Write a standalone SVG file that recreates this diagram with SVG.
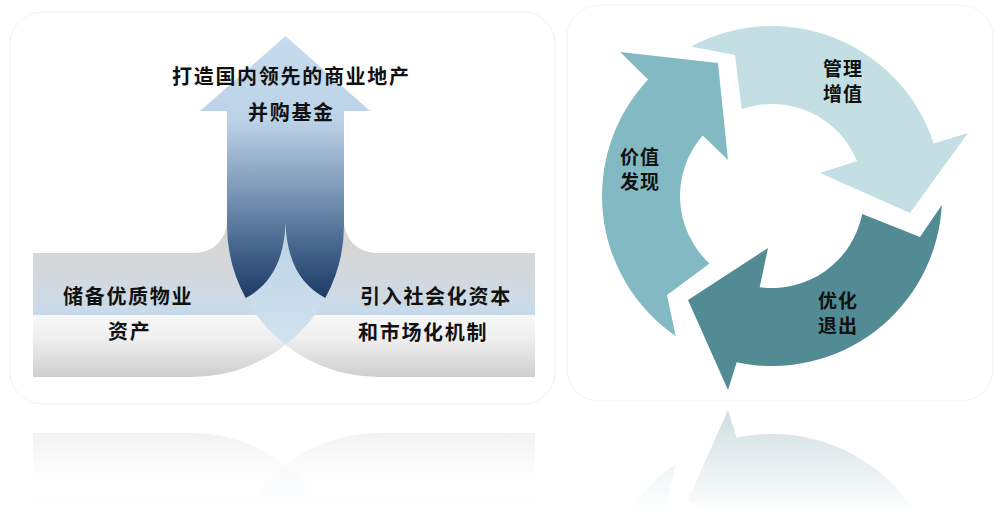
<svg xmlns="http://www.w3.org/2000/svg" xmlns:xlink="http://www.w3.org/1999/xlink" width="1000" height="530" viewBox="0 0 1000 530">
  <defs>
    <style>
      .lbl { font-family: "Noto Sans CJK SC", "Noto Sans", sans-serif; font-weight: 700; fill: #111111; }
      .big { font-size: 20px; letter-spacing: 1.7px; }
      .cyc { font-size: 19px; letter-spacing: 1px; }
      .card { fill: #ffffff; stroke: #f3f3f3; stroke-width: 1; }
    </style>
    <linearGradient id="band" gradientUnits="userSpaceOnUse" x1="0" y1="253" x2="0" y2="377">
      <stop offset="0" stop-color="#d6d6d6"/>
      <stop offset="0.35" stop-color="#cfdae4"/>
      <stop offset="0.5" stop-color="#c6daeb"/>
      <stop offset="0.5" stop-color="#f8f8f8"/>
      <stop offset="0.7" stop-color="#eeeeee"/>
      <stop offset="1" stop-color="#cecece"/>
    </linearGradient>
    <linearGradient id="lens" gradientUnits="userSpaceOnUse" x1="0" y1="225" x2="0" y2="345">
      <stop offset="0" stop-color="#bad1e5"/>
      <stop offset="1" stop-color="#d2e3ef"/>
    </linearGradient>
    <linearGradient id="shaft" gradientUnits="userSpaceOnUse" x1="0" y1="36" x2="0" y2="300">
      <stop offset="0" stop-color="#c6dbed"/>
      <stop offset="0.32" stop-color="#bcd2e7"/>
      <stop offset="0.57" stop-color="#809cbb"/>
      <stop offset="0.8" stop-color="#46658c"/>
      <stop offset="1" stop-color="#1c3963"/>
    </linearGradient>
    <linearGradient id="fadeGradL" gradientUnits="userSpaceOnUse" x1="0" y1="425" x2="0" y2="515">
      <stop offset="0" stop-color="#ffffff" stop-opacity="0.3"/>
      <stop offset="1" stop-color="#ffffff" stop-opacity="0"/>
    </linearGradient>
    <linearGradient id="fadeGradR" gradientUnits="userSpaceOnUse" x1="0" y1="405" x2="0" y2="515">
      <stop offset="0" stop-color="#ffffff" stop-opacity="0.3"/>
      <stop offset="1" stop-color="#ffffff" stop-opacity="0"/>
    </linearGradient>
    <mask id="fadeL" maskUnits="userSpaceOnUse" x="0" y="405" width="1000" height="125">
      <rect x="0" y="405" width="1000" height="125" fill="url(#fadeGradL)"/>
    </mask>
    <mask id="fadeR" maskUnits="userSpaceOnUse" x="0" y="400" width="1000" height="130">
      <rect x="0" y="400" width="1000" height="130" fill="url(#fadeGradR)"/>
    </mask>
  </defs>

  <rect x="0" y="0" width="1000" height="530" fill="#ffffff"/>

  <!-- cards -->
  <rect class="card" x="10" y="12" width="545" height="392" rx="32"/>
  <rect class="card" x="567" y="5" width="426" height="396" rx="32"/>

  <!-- left: converging arrows -->
  <g id="merge-shapes">
    <path id="left-body" d="M33,253 H195 A32,32 0 0 0 227,221 V150 H344 V225 A152,152 0 0 1 192,377 H33 Z" fill="url(#band)"/>
    <path id="right-body" d="M535,253 H376 A32,32 0 0 1 344,221 V150 H227 V225 A152,152 0 0 0 379,377 H535 Z" fill="url(#band)"/>
    <path id="lens-shape" d="M227,225 A152,152 0 0 0 285.5,344.8 A152,152 0 0 0 344,225 Z" fill="url(#lens)"/>
    <path id="up-arrow" d="M285.5,36 L370,111 H344 V225 A152,152 0 0 1 325.3,298 C301,285 287,262 285.5,223 C284,262 270,285 245.7,298 A152,152 0 0 1 227,225 V111 H200 Z" fill="url(#shaft)"/>
  </g>

  <g id="node-top">
    <text class="lbl big" x="172" y="84">打造国内领先的商业地产</text>
    <text class="lbl big" x="248" y="120">并购基金</text>
  </g>
  <g id="node-left">
    <text class="lbl big" x="63" y="304">储备优质物业</text>
    <text class="lbl big" x="108" y="339">资产</text>
  </g>
  <g id="node-right">
    <text class="lbl big" x="360" y="304">引入社会化资本</text>
    <text class="lbl big" x="358" y="340">和市场化机制</text>
  </g>

  <!-- right: cycle -->
  <g id="cycle-shapes">
    <g id="node-manage">
      <path d="M691.1,46.5 A170,170 0 0 1 933.7,143.5 L968,133 L910,213 L820,173 L857.1,161.1 A92,92 0 0 0 741.7,109.1 L735,55 Z" fill="#c3dfe3"/>
    </g>
    <g id="node-exit">
      <path d="M941.8,204.9 A170,170 0 0 1 736.7,362.3 L728,390 L688,300 L768,248 L759.7,287.2 A92,92 0 0 0 862.2,214 L920,237 Z" fill="#538b94"/>
    </g>
    <g id="node-discover">
      <path d="M675.7,336.1 A170,170 0 0 1 648.1,79.6 L620,52 L718,63 L728,160 L702.8,135.4 A92,92 0 0 0 709.6,263.6 L667,295 Z" fill="#83b9c3"/>
    </g>
  </g>
  <g id="labels-cycle">
    <text class="lbl cyc" x="823" y="76">管理</text>
    <text class="lbl cyc" x="823" y="101">增值</text>
    <text class="lbl cyc" x="620" y="164">价值</text>
    <text class="lbl cyc" x="620" y="189">发现</text>
    <text class="lbl cyc" x="818" y="308">优化</text>
    <text class="lbl cyc" x="818" y="333">退出</text>
  </g>

  <!-- reflections -->
  <g id="reflections">
    <g mask="url(#fadeL)">
      <use xlink:href="#merge-shapes" transform="translate(0,810) scale(1,-1)"/>
    </g>
    <g mask="url(#fadeR)">
      <use xlink:href="#cycle-shapes" transform="translate(0,800) scale(1,-1)"/>
    </g>
  </g>
</svg>
